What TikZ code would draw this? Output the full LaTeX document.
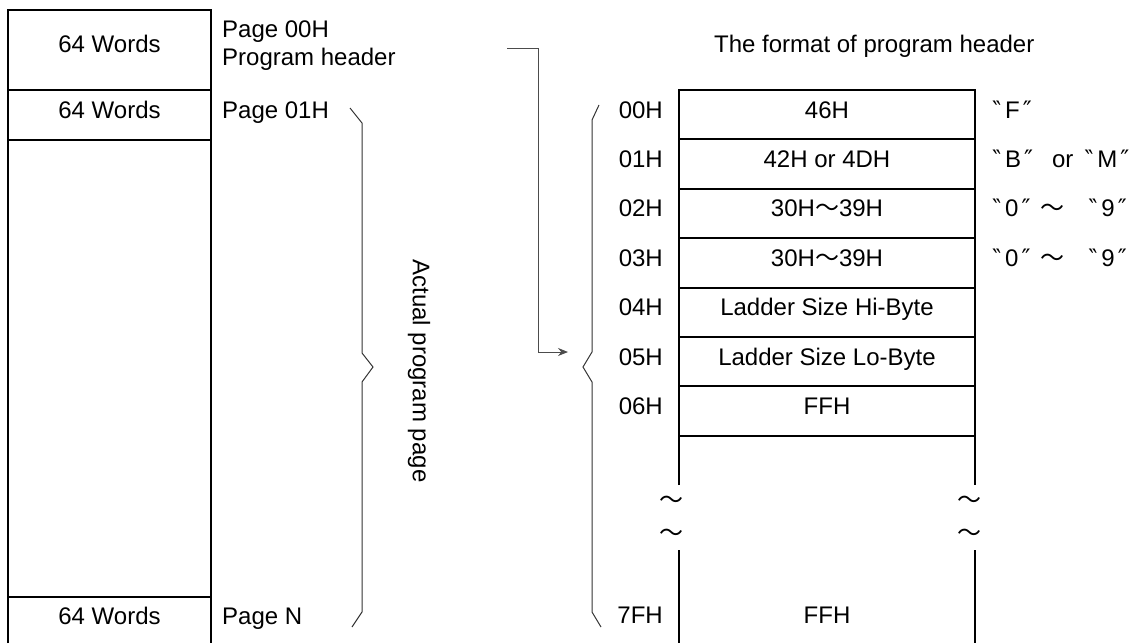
\documentclass[tikz,border=0pt]{standalone}
\usepackage{fontspec}
\setmainfont{Liberation Sans}
\newfontfamily\cjk{Noto Sans CJK JP}
\newfontfamily\sym{DejaVu Sans}
\usetikzlibrary{arrows.meta}
\newcommand{\wave}{{\cjk ～}}
\newcommand{\qt}[1]{{\sym ‶}\hspace{4pt}#1\hspace{3pt}{\sym ″}}

\begin{document}
\begin{tikzpicture}[x=1pt,y=-1pt,
    txt/.style={anchor=base, inner sep=0pt, font=\fontsize{24}{28}\selectfont},
    frame/.style={line width=2pt},
    brace/.style={line width=1pt, black!80},
    link/.style={line width=1pt, black!70, -{Stealth[length=10pt,width=8pt]}}]
        \useasboundingbox (0,0) rectangle (1142,643);
        % Program pages
        \draw[frame] (8,643) -- (8,10) -- (211,10) -- (211,643);
        \foreach \y in {90,140,597}
            \draw[frame] (8,\y) -- (211,\y);
        \node[txt] (w0) at (109.5,52) {64 Words};
        \node[txt] (w1) at (109.5,118) {64 Words};
        \node[txt] (wn) at (109.5,624) {64 Words};
        \node[txt,anchor=base west] (p0) at (222,37) {Page 00H};
        \node[txt,anchor=base west] (hdr) at (222,65) {Program header};
        \node[txt,anchor=base west] (p1) at (222,118) {Page 01H};
        \node[txt,anchor=base west] (pn) at (222,624) {Page N};

        % Brace over the actual pages
        \draw[brace] (350,108) -- (362,123) -- (362,353) -- (373,367) -- (362,382) -- (362,612) -- (352,627);
        \node[txt,anchor=center,rotate=-90] (act) at (419,371) {Actual program page};

        % Header format table
        \node[txt,anchor=base west] (title) at (714,52) {The format of program header};
        \draw[frame] (679,485) -- (679,90) -- (975,90) -- (975,485);
        \draw[frame] (679,550) -- (679,643);
        \draw[frame] (975,550) -- (975,643);
        \foreach \lbl/\val [count=\i from 0] in {00H/46H, 01H/42H or 4DH, 02H/30H\wave 39H, 03H/30H\wave 39H, 04H/Ladder Size Hi-Byte, 05H/Ladder Size Lo-Byte, 06H/FFH}
        {
            \pgfmathsetmacro{\ytop}{90+49.4*\i}
            \node[txt,anchor=base east] (a\i) at (663,\ytop+28) {\lbl};
            \node[txt] (v\i) at (827,\ytop+28) {\val};
            \draw[frame] (679,\ytop+49.4) -- (975,\ytop+49.4);
        }
        \node[txt,anchor=base east] (a7) at (663,623) {7FH};
        \node[txt] (v7) at (827,623) {FFH};
        \foreach \x/\s in {671/l,969/r}
        {
            \node[txt,anchor=center] (brk\s1) at (\x,502) {\wave};
            \node[txt,anchor=center] (brk\s2) at (\x,535) {\wave};
        }

        % Character codes
        \node[txt,anchor=base west] (n0) at (992,118) {\qt{F}};
        \node[txt,anchor=base west] (n1) at (992,167.4) {\qt{B}\hspace{19pt}or\hspace{11pt}\qt{M}};
        \node[txt,anchor=base west] (n2) at (992,216.8) {\qt{0}\hspace{10pt}\wave\hspace{24pt}\qt{9}};
        \node[txt,anchor=base west] (n3) at (992,266.2) {\qt{0}\hspace{10pt}\wave\hspace{24pt}\qt{9}};

        % Brace over the header bytes and the link to it
        \draw[brace] (599,105) -- (592,120) -- (592,352) -- (583,367) -- (592,382) -- (592,612) -- (601,627);
        \coordinate (from) at (507,48);
        \coordinate (to) at (568,352);
        \draw[link] (from) -| ([xshift=-30pt]to) -- (to);
    \end{tikzpicture}
\end{document}
